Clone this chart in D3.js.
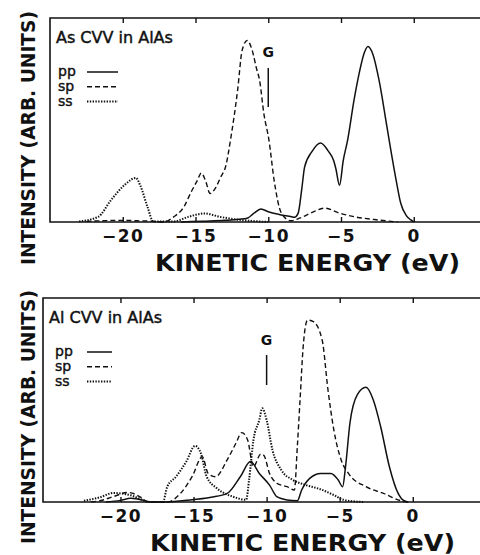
<!DOCTYPE html>
<html>
<head>
<meta charset="utf-8">
<script src="https://cdn.jsdelivr.net/npm/d3@7"></script>
<style>
  html, body { margin: 0; padding: 0; background: #fff; }
  svg { display: block; }
  text { fill: #111; }
</style>
</head>
<body>
<svg id="chart" width="480" height="555"></svg>
<script>
// Auger line shapes, intensity in arbitrary units vs kinetic energy (eV)
const tickValues = [-20, -15, -10, -5, 0];
const tickLabels = ["\u221220", "\u221215", "\u221210", "\u22125", "0"];
const seriesNames = ["pp", "sp", "ss"];
const panelTitles = ["As CVV in AlAs", "Al CVV in AlAs"];
const gapEnergy = [-10, -10];

// As CVV
const asPP = [[-16,0],[-14.5,0.4],[-13,0.8],[-12,1.3],[-11.4,2],[-11,4.2],[-10.5,6.4],[-10,5],[-9.2,3.6],[-8.4,2.6],[-8.2,2.3],[-7.95,4.2],[-7.7,16],[-7.5,27],[-7,34.5],[-6.4,38.7],[-5.9,35],[-5.5,30],[-5.35,26],[-5.1,18],[-4.85,30],[-4.55,40],[-4.1,60],[-3.75,73],[-3.4,83],[-3.15,86],[-2.8,82],[-2.4,70],[-1.85,47],[-1.5,32],[-1.2,20],[-0.9,9.3],[-0.5,3],[-0.2,1],[0,0]];
const asSP = [[-22.5,0.3],[-21.5,0.6],[-20,0.8],[-19,0.6],[-18,0.4],[-17.2,0],[-16.5,2.5],[-15.8,7.4],[-15.3,14.7],[-14.9,20],[-14.6,24],[-14.3,20],[-14.0,14],[-13.6,17],[-13.3,21.6],[-12.9,28],[-12.6,40],[-12.1,65],[-11.8,84],[-11.45,89],[-11.1,84],[-10.8,75],[-10.6,69.6],[-10.3,53],[-9.95,40],[-9.6,20.6],[-9.1,4.4],[-8.45,0.6],[-7.8,2],[-6.9,5],[-6.1,6.8],[-5.2,4.6],[-4.1,2.6],[-2.7,1.2],[-1.1,0]];
const asSS = [[-23,0.3],[-21.7,2.5],[-20.8,10.8],[-19.9,18],[-19.1,21.6],[-18.8,18],[-18.3,7.4],[-17.9,0.3],[-16.5,0.3],[-15.5,2.5],[-14.4,4.2],[-13.3,2.5],[-11.9,1],[-10.7,0.3],[-10,0]];

// Al CVV
const alPP = [[-21,0],[-20,0.8],[-19.3,1.8],[-18.5,1],[-18,0],[-17,0],[-15.5,0.8],[-13.8,2.3],[-12.7,4.2],[-11.8,12.4],[-11.1,19.8],[-10.5,14],[-9.8,8.3],[-9.3,2.6],[-8.6,1],[-7.9,0.6],[-7.6,5.9],[-7.05,11.6],[-6.3,14],[-5.6,14],[-5.1,10.8],[-4.8,7.5],[-4.6,17.3],[-4.3,38.6],[-3.8,52.5],[-3.2,56.2],[-2.7,50],[-2.2,37],[-1.6,17.3],[-1.0,4.2],[-0.6,0.6],[-0.3,0]];
const alSP = [[-22,0],[-21.4,0.6],[-20.5,2.6],[-19.5,4.7],[-18.6,2.3],[-18.2,0.3],[-16.8,0],[-15.9,4.2],[-15.1,12.4],[-14.4,22.2],[-14.0,14],[-13.5,12.4],[-12.7,20.6],[-12.1,28.8],[-11.7,34],[-11.3,30.4],[-10.9,17.3],[-10.4,23.5],[-10.2,23],[-9.8,14],[-9.3,9.2],[-8.6,7.5],[-8.1,5.9],[-7.9,27],[-7.7,51.6],[-7.5,76],[-7.2,89.2],[-6.8,88.4],[-6.2,79.4],[-5.8,54.9],[-5.4,35.3],[-4.9,20.6],[-4.4,14],[-3.2,7.5],[-2.0,4.2],[-0.8,0.6],[-0.3,0]];
const alSS = [[-22.5,0.6],[-21.4,2.3],[-20.5,4.4],[-19.3,3.3],[-18.5,1],[-18.1,0],[-17.1,0],[-16.8,7.5],[-16.2,12.4],[-15.5,19.8],[-14.9,27.5],[-14.5,23.9],[-14.1,12.4],[-13.4,6.7],[-12.3,2.6],[-11.4,1.1],[-11.2,10.8],[-10.9,30.4],[-10.5,40.2],[-10.3,45.9],[-10.0,40.2],[-9.6,25.5],[-9.0,15.7],[-8.2,10.8],[-7.3,8.3],[-6.3,6.2],[-5.4,3.4],[-4.7,1],[-3.4,0]];

const panelData = [[asPP, asSP, asSS], [alPP, alSP, alSS]];

const styles = {
  pp: { width: 1.5, dash: null },
  sp: { width: 1.4, dash: "5,3" },
  ss: { width: 2, dash: "1.4,1.4" }
};

const svg = d3.select("#chart");
const FONT = "'DejaVu Sans', sans-serif";

// layout of the two stacked panels
const panels = [
  { left: 50, top: 18, bottom: 222, xmin: -25, right: 480.7, yOff: 0, legendEnd: 118,
    titleX: 155, titleY: 271, ylabelY: 138 },
  { left: 43, top: 298, bottom: 502, xmin: -25.3, right: 480, yOff: 280, legendEnd: 112,
    titleX: 150, titleY: 551, ylabelY: 417 }
];

panels.forEach((p, i) => {
  const x = d3.scaleLinear().domain([p.xmin, 4.6]).range([p.left, p.right]);
  const y = d3.scaleLinear().domain([0, 100]).range([p.bottom, p.top]);
  const g = svg.append("g");

  // frame: top, left, baseline
  g.append("path")
    .attr("d", `M480,${p.top}H${p.left}V${p.bottom}H480`)
    .attr("fill", "none").attr("stroke", "#111").attr("stroke-width", 1.6);

  // bottom axis, ticks pointing inward
  const axB = d3.axisBottom(x).tickValues(tickValues).tickSize(-5).tickFormat((d, k) => tickLabels[k]);
  const gb = g.append("g").attr("transform", `translate(0,${p.bottom})`).call(axB);
  gb.select(".domain").remove();
  gb.selectAll(".tick line").attr("stroke", "#111").attr("stroke-width", 1.4);
  gb.selectAll(".tick text")
    .attr("y", 20).attr("dy", 0)
    .attr("font-family", FONT).attr("font-weight", "bold").attr("font-size", 17)
    .attr("letter-spacing", 1.5)
    .attr("fill", "#111");

  // top edge ticks
  const axT = d3.axisTop(x).tickValues(tickValues).tickSize(-5).tickFormat("");
  const gt = g.append("g").attr("transform", `translate(0,${p.top})`).call(axT);
  gt.select(".domain").remove();
  gt.selectAll(".tick line").attr("stroke", "#111").attr("stroke-width", 1.4);

  // curves
  const line = d3.line().x(d => x(d[0])).y(d => y(d[1])).curve(d3.curveMonotoneX);
  panelData[i].forEach((series, k) => {
    const st = styles[seriesNames[k]];
    g.append("path")
      .datum(series)
      .attr("d", line)
      .attr("fill", "none")
      .attr("stroke", "#111")
      .attr("stroke-width", st.width)
      .attr("stroke-dasharray", st.dash);
  });

  // panel title
  g.append("text")
    .attr("x", p.left + 6).attr("y", 43 + p.yOff)
    .attr("font-family", FONT).attr("font-size", 16)
    .attr("stroke", "#111").attr("stroke-width", 0.45)
    .text(panelTitles[i]);

  // legend
  seriesNames.forEach((name, k) => {
    const by = 76 + k * 14.8 + p.yOff;
    const st = styles[name];
    g.append("text")
      .attr("x", p.left + (i === 0 ? 8 : 12)).attr("y", by)
      .attr("font-family", FONT).attr("font-size", 14)
      .attr("stroke", "#111").attr("stroke-width", 0.4)
      .text(name);
    g.append("line")
      .attr("x1", 87).attr("x2", p.legendEnd)
      .attr("y1", by - 4).attr("y2", by - 4)
      .attr("stroke", "#111").attr("stroke-width", st.width)
      .attr("stroke-dasharray", st.dash);
  });

  // gap marker
  const gx = x(gapEnergy[i]);
  g.append("text")
    .attr("x", gx).attr("y", 57 + p.yOff + (i === 1 ? 8 : 0))
    .attr("text-anchor", "middle")
    .attr("font-family", FONT).attr("font-weight", "bold").attr("font-size", 14)
    .text("G");
  g.append("line")
    .attr("x1", gx).attr("x2", gx)
    .attr("y1", 68 + p.yOff + (i === 1 ? 7 : 0)).attr("y2", 107 + p.yOff - (i === 1 ? 2 : 0))
    .attr("stroke", "#111").attr("stroke-width", 1.5);

  // axis titles
  g.append("text")
    .attr("x", p.titleX).attr("y", p.titleY)
    .attr("font-family", FONT).attr("font-weight", "bold").attr("font-size", 22.5)
    .attr("textLength", 305).attr("lengthAdjust", "spacingAndGlyphs")
    .text("KINETIC ENERGY (eV)");
  g.append("text")
    .attr("transform", `translate(35,${p.ylabelY}) rotate(-90)`)
    .attr("text-anchor", "middle")
    .attr("font-family", FONT).attr("font-weight", "bold").attr("font-size", 19)
    .attr("textLength", 254).attr("lengthAdjust", "spacingAndGlyphs")
    .text("INTENSITY (ARB. UNITS)");
});
</script>
</body>
</html>
